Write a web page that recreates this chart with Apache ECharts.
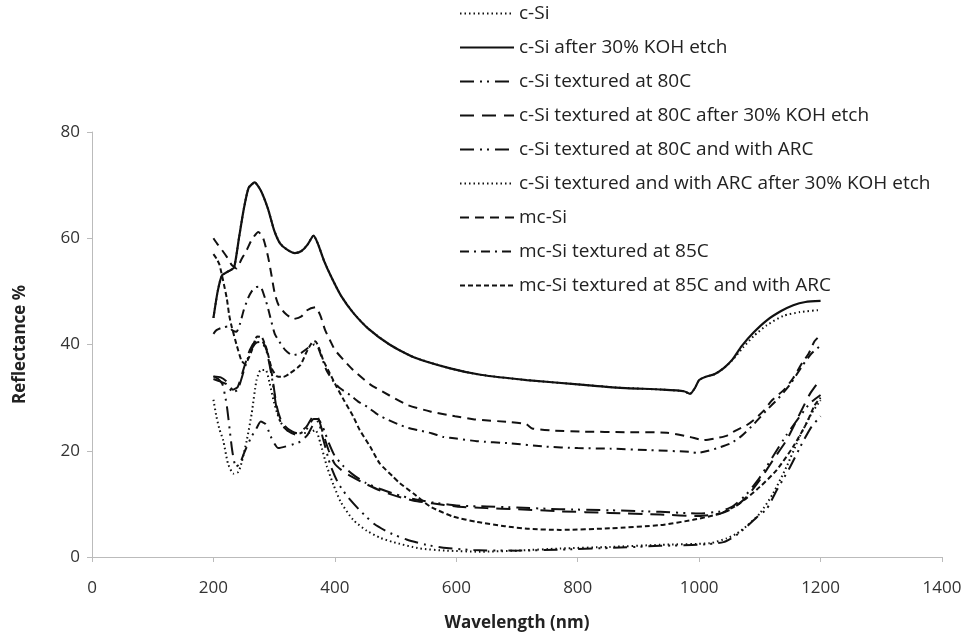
<!DOCTYPE html>
<html>
<head>
<meta charset="utf-8">
<script src="https://cdn.jsdelivr.net/npm/echarts@6/dist/echarts.min.js"></script>
<style>
  html, body { margin: 0; padding: 0; background: #fff; }
  #chart { width: 967px; height: 640px; }
</style>
</head>
<body>
<div id="chart"></div>
<script>
// legend order, top to bottom
const seriesNames = [
  'c-Si',
  'c-Si after 30% KOH etch',
  'c-Si textured at 80C',
  'c-Si textured at 80C after 30% KOH etch',
  'c-Si textured at 80C and with ARC',
  'c-Si textured and with ARC after 30% KOH etch',
  'mc-Si',
  'mc-Si textured at 85C',
  'mc-Si textured at 85C and with ARC'
]

// [wavelength nm, reflectance %]
const cSi = [[200,45],[207,50],[214,53],[225,53.8],[234,54.5],[242,60],[250,65.5],[258,69.5],[268,70.5],[278,69],[290,65.5],[300,61.5],[310,59],[322,57.8],[334,57.2],[345,57.6],[355,58.8],[365,60.5],[372,59],[382,55.8],[395,52.5],[410,49.2],[430,46],[455,43],[490,40],[530,37.6],[590,35.5],[640,34.3],[716,33.3],[800,32.5],[864,31.9],[940,31.5],[975,31.2],[985,30.7],[993,31.8],[1000,33.3],[1010,33.9],[1025,34.4],[1040,35.5],[1055,37.1],[1072,39.4],[1090,41.6],[1111,43.6],[1139,45.4],[1166,46.1],[1200,46.5]]
const cSiKoh = [[200,45],[207,50],[214,53],[225,53.8],[234,54.5],[242,60],[250,65.5],[258,69.5],[268,70.5],[278,69],[290,65.5],[300,61.5],[310,59],[322,57.8],[334,57.2],[345,57.6],[355,58.8],[365,60.5],[372,59],[382,55.8],[395,52.5],[410,49.2],[430,46],[455,43],[490,40],[530,37.6],[590,35.5],[640,34.3],[716,33.3],[800,32.5],[864,31.9],[940,31.5],[975,31.2],[985,30.7],[993,31.8],[1000,33.3],[1010,33.9],[1025,34.4],[1040,35.5],[1055,37.2],[1070,39.7],[1090,42.3],[1112,44.6],[1135,46.3],[1155,47.4],[1175,48],[1200,48.2]]
const cSiTex80 = [[200,33.5],[212,33],[222,32.5],[232,31],[240,31.5],[250,35],[260,38.5],[270,40.3],[279,40.5],[288,38.5],[296,34],[304,28],[312,25],[322,23.8],[337,23],[353,24],[365,26],[372,26],[380,24.5],[390,21.5],[400,19],[415,17],[430,15.5],[450,14],[475,12.8],[500,11.8],[530,10.9],[560,10.3],[600,9.7],[650,9.5],[700,9.3],[771,9],[853,8.8],[936,8.5],[1000,8.2],[1035,8.6],[1056,9.6],[1078,11.8],[1100,15],[1122,19],[1144,23],[1166,26.5],[1183,29],[1200,30.5]]
const cSiTex80Koh = [[200,34],[212,33.8],[222,33],[232,31.5],[240,32],[250,35.5],[260,39],[270,40.7],[279,40.8],[288,38.8],[296,34.6],[304,28.5],[312,25.5],[322,24.2],[337,23.3],[353,24.5],[365,26.5],[372,26.3],[380,23.5],[390,20],[400,17.5],[415,16],[430,15],[450,13.8],[475,12.5],[500,11.5],[530,10.6],[560,10.1],[600,9.5],[650,9.2],[700,9],[771,8.6],[853,8.3],[936,8],[1000,7.7],[1035,8.2],[1056,9.2],[1078,11.3],[1100,14.5],[1122,18.3],[1144,22],[1166,27],[1183,30.8],[1200,33.5]]
const cSiTex80Arc = [[200,34],[208,33.5],[215,32.5],[222,28.5],[231,20],[237,17],[243,17.5],[252,20],[262,22.5],[270,24],[278,25.5],[286,25],[296,22.3],[307,20.5],[325,21],[343,21.7],[355,23],[365,25],[372,25.5],[380,22.5],[392,17.5],[405,14],[420,11.5],[441,8.8],[465,6.2],[491,4.5],[518,3.3],[550,2.3],[584,1.7],[629,1.3],[700,1.2],[771,1.4],[853,1.7],[936,2.1],[1000,2.3],[1040,2.8],[1060,4],[1078,5.7],[1095,7.5],[1111,9],[1128,12.6],[1150,17],[1170,21.5],[1185,24.5],[1200,26.5]]
const cSiTexArcKoh = [[200,29.6],[205,26.4],[210,24],[216,22],[224,17.6],[233,15.7],[241,16],[246,17.6],[255,22],[263,27],[271,33.3],[278,35.2],[286,35.2],[292,33],[300,29],[310,25.5],[322,23.8],[340,23.3],[358,23.4],[368,23.9],[376,21.5],[387,17],[398,13.5],[410,10.3],[430,7],[453,4.9],[475,3.6],[496,2.8],[540,1.6],[584,1.2],[640,1],[700,1.2],[771,1.6],[853,1.9],[936,2.3],[1018,2.6],[1045,3.5],[1062,4.4],[1080,6],[1100,8.2],[1122,12],[1144,17],[1165,22.5],[1185,27],[1200,29.5]]
const mcSi = [[200,60],[206,59],[214,57.8],[222,56.5],[230,55],[238,54.3],[246,56],[255,57.8],[263,59.7],[274,61.2],[282,60],[290,56.5],[296,52.8],[301,49.6],[307,47.5],[318,45.9],[332,44.8],[345,45.3],[355,46.5],[368,47],[376,45.5],[384,42.7],[392,40.8],[400,39],[415,37],[430,35.2],[458,32.5],[490,30.4],[520,28.6],[557,27.4],[598,26.5],[630,25.9],[688,25.4],[715,25],[725,24.2],[760,23.8],[809,23.6],[880,23.5],[947,23.4],[985,22.6],[1007,22],[1025,22.3],[1045,22.8],[1060,23.8],[1078,24.8],[1090,25.8],[1106,27.5],[1120,29.5],[1140,31.5],[1155,33.7],[1170,36.6],[1180,38.2],[1190,40.6],[1200,41.8]]
const mcSiTex85 = [[200,42],[205,42.7],[215,43.2],[224,43.4],[232,42.6],[238,42.4],[244,44],[250,46.5],[257,48.7],[263,50],[270,50.8],[277,50.9],[285,48.7],[290,46.8],[295,44.5],[301,42],[307,40.8],[318,39],[330,38],[343,38.3],[355,39.3],[366,40],[372,39.5],[378,37.7],[386,35.2],[398,33],[408,31.8],[425,30.5],[439,29.2],[453,28.3],[472,26.7],[488,25.8],[504,25],[521,24.3],[540,23.8],[559,23.3],[579,22.6],[600,22.3],[634,21.8],[688,21.4],[745,20.8],[800,20.5],[853,20.4],[920,20.1],[985,19.8],[996,19.6],[1015,20],[1030,20.5],[1052,21.4],[1070,22.8],[1090,25],[1110,27.5],[1130,29.8],[1150,32.5],[1170,36],[1185,38.3],[1200,39.8]]
const mcSiTex85Arc = [[200,57],[206,56],[210,55],[216,52],[222,48.7],[226,45.5],[230,43.4],[238,40],[246,37],[252,36.3],[262,38.5],[272,41.5],[280,41.3],[288,39],[296,35.5],[305,34],[315,33.9],[325,34.5],[343,36.1],[353,38.5],[362,40.3],[368,40.6],[375,39],[381,37],[392,34.5],[403,32],[415,29.5],[430,26.5],[441,23.9],[458,20.8],[474,17.6],[496,15.1],[507,13.9],[529,12],[557,9.5],[595,7.6],[634,6.6],[680,5.8],[720,5.3],[771,5.1],[853,5.4],[936,6],[990,7],[1035,8.2],[1067,10.1],[1100,13.2],[1128,16.4],[1155,20.8],[1177,25.2],[1190,28.5],[1200,30]]

const allData = [cSi, cSiKoh, cSiTex80, cSiTex80Koh, cSiTex80Arc, cSiTexArcKoh, mcSi, mcSiTex85, mcSiTex85Arc]
// line dash patterns matching the legend swatches
const dashes = [
  [1.5, 3],            // dotted
  'solid',
  [14, 6, 2, 5, 2, 6], // dash dot dot
  [14, 8],             // long dash
  [14, 6, 2, 5, 2, 6],
  [1.5, 3],
  [9, 6],              // dash
  [9, 5, 2, 5],        // dash dot
  [5, 3]               // short dash
]

const font = '"Open Sans", "DejaVu Sans", sans-serif'
const chart = echarts.init(document.getElementById('chart'))

chart.setOption({
  animation: false,
  backgroundColor: '#fff',
  grid: { left: 92, right: 25, top: 132, bottom: 83 },
  legend: {
    orient: 'vertical',
    left: 454,
    top: -1,
    itemWidth: 54,
    itemHeight: 14,
    itemGap: 15,
    itemStyle: { opacity: 0 },
    textStyle: { fontFamily: font, fontSize: 19, lineHeight: 14, color: '#222' },
    data: seriesNames
  },
  xAxis: {
    type: 'value',
    min: 0,
    max: 1400,
    interval: 200,
    name: 'Wavelength (nm)',
    nameLocation: 'middle',
    nameGap: 58,
    nameTextStyle: { fontFamily: font, fontSize: 17, fontWeight: 'bold', color: '#222' },
    axisLine: { show: true, lineStyle: { color: '#bbb', width: 1 } },
    axisTick: { show: true, length: 5, lineStyle: { color: '#bbb' } },
    axisLabel: { margin: 23, fontFamily: font, fontSize: 17, color: '#333', formatter: v => String(v) },
    splitLine: { show: false }
  },
  yAxis: {
    type: 'value',
    min: 0,
    max: 80,
    interval: 20,
    name: 'Reflectance %',
    nameLocation: 'middle',
    nameGap: 63,
    nameTextStyle: { fontFamily: font, fontSize: 17, fontWeight: 'bold', color: '#222' },
    axisLine: { show: true, lineStyle: { color: '#bbb', width: 1 } },
    axisTick: { show: true, length: 5, lineStyle: { color: '#bbb' } },
    axisLabel: { margin: 12, fontFamily: font, fontSize: 17, color: '#333', formatter: v => String(v) },
    splitLine: { show: false }
  },
  series: seriesNames.map((name, i) => ({
    name: name,
    type: 'line',
    data: allData[i],
    symbol: 'none',
    showSymbol: false,
    smooth: 0.2,
    color: '#111',
    lineStyle: { color: '#111', width: i === 1 ? 2.2 : 2, type: dashes[i] }
  }))
})
</script>
</body>
</html>
